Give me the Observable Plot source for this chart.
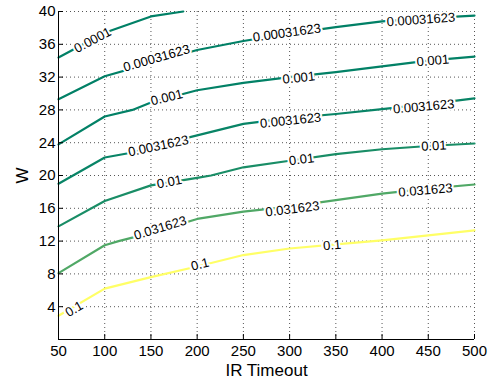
<!DOCTYPE html>
<html><head><meta charset="utf-8">
<script src="https://cdn.jsdelivr.net/npm/d3@7"></script>
<script src="https://cdn.jsdelivr.net/npm/@observablehq/plot@0.6"></script>
<style>
body{margin:0;background:#fff;}
svg{font-family:"Liberation Sans",Arial,Helvetica,sans-serif;}
</style>
</head><body><div id="chart"></div>
<script>
// contour levels
const levels = [0.0001, 0.00031623, 0.001, 0.0031623, 0.01, 0.031623, 0.1];
// contour paths as [IR Timeout, W] pairs
const line_0001     = [[50,34.4],[100,37.4],[150,39.4],[185,40]];
const line_00031623 = [[50,29.3],[100,32.1],[150,33.7],[200,35.3],[250,36.4],[300,37.3],[350,38.1],[400,38.8],[450,39.2],[500,39.5]];
const line_001      = [[50,23.8],[100,27.2],[130,28.0],[150,28.9],[200,30.4],[250,31.3],[300,32.0],[350,32.6],[400,33.3],[450,34.0],[500,34.5]];
const line_0031623  = [[50,19.0],[100,22.2],[130,22.8],[150,23.5],[200,24.9],[250,26.3],[300,27.0],[350,27.5],[400,28.1],[450,28.7],[500,29.4]];
const line_01       = [[50,13.8],[100,16.9],[150,18.8],[200,19.7],[215,20.0],[250,21.0],[300,21.8],[350,22.6],[400,23.2],[450,23.6],[500,23.9]];
const line_031623   = [[50,8.1],[100,11.5],[115,12.0],[150,13.0],[200,14.7],[250,15.6],[300,16.2],[350,17.0],[400,17.8],[450,18.4],[500,18.9]];
const line_1        = [[50,2.9],[100,6.2],[150,7.6],[200,8.9],[250,10.3],[300,11.1],[350,11.6],[400,12.1],[450,12.7],[500,13.3]];
const paths = [line_0001, line_00031623, line_001, line_0031623, line_01, line_031623, line_1];

// inline contour labels
const labelText  = ["0.0001","0.00031623","0.00031623","0.00031623","0.001","0.001","0.001","0.0031623","0.0031623","0.0031623","0.01","0.01","0.01","0.031623","0.031623","0.031623","0.1","0.1","0.1"];
const labelX     = [87, 156, 297, 442, 167, 310, 455, 158, 301, 445, 170, 313, 456, 160, 303, 447, 67, 203, 346];
const labelY     = [36.5, 34.3, 37.4, 39.0, 29.5, 31.9, 34.0, 23.6, 26.7, 28.4, 19.2, 21.95, 23.6, 13.6, 15.9, 18.2, 3.7, 9.15, 11.5];
const labelAngle = [28, 16, 8, 4, 14, 6, 5, 12, 6, 5, 11, 7, 3, 17, 7, 5, 30, 14, 5];

const xTicks = [50,100,150,200,250,300,350,400,450,500];
const yTicks = [4,8,12,16,20,24,28,32,36,40];

const rows = paths.flatMap((p, i) => p.map(([x, y]) => ({x, y, level: levels[i]})));
const labels = labelText.map((t, i) => ({text: t, x: labelX[i], y: labelY[i], rot: -labelAngle[i]}));

const chart = Plot.plot({
  width: 493, height: 387,
  marginLeft: 58, marginRight: 19, marginTop: 11, marginBottom: 48,
  style: {fontSize: "15px", color: "#000", background: "#fff"},
  x: {domain: [50, 500]},
  y: {domain: [0, 40]},
  color: {type: "linear", domain: [0.0001, 0.1], range: ["rgb(0,128,102)", "rgb(255,255,102)"]},
  marks: [
    Plot.ruleX(xTicks, {stroke: "#555", strokeWidth: 1, strokeDasharray: "1,3"}),
    Plot.ruleY(yTicks, {stroke: "#555", strokeWidth: 1, strokeDasharray: "1,3"}),
    Plot.line(rows, {x: "x", y: "y", z: "level", stroke: "level", strokeWidth: 2.2}),
    Plot.text(labels, {x: "x", y: "y", text: "text", rotate: "rot", fontSize: 13, fill: "#000", stroke: "white", strokeWidth: 4}),
    Plot.ruleX([50], {stroke: "#000", strokeWidth: 1}),
    Plot.ruleY([0], {stroke: "#000", strokeWidth: 1}),
    Plot.axisX(xTicks, {tickSize: -5, tickPadding: 11, label: null, fontSize: 15}),
    Plot.axisY(yTicks, {tickSize: -5, tickPadding: 8, label: null, fontSize: 15}),
    Plot.text(["IR Timeout"], {frameAnchor: "bottom", lineAnchor: "middle", textAnchor: "middle", dy: 31, fontSize: 17, fill: "#000"}),
    Plot.text(["W"], {frameAnchor: "left", lineAnchor: "middle", textAnchor: "middle", dx: -36, rotate: -90, fontSize: 17, fill: "#000"})
  ]
});
document.getElementById("chart").appendChild(chart);
</script>
</body></html>
